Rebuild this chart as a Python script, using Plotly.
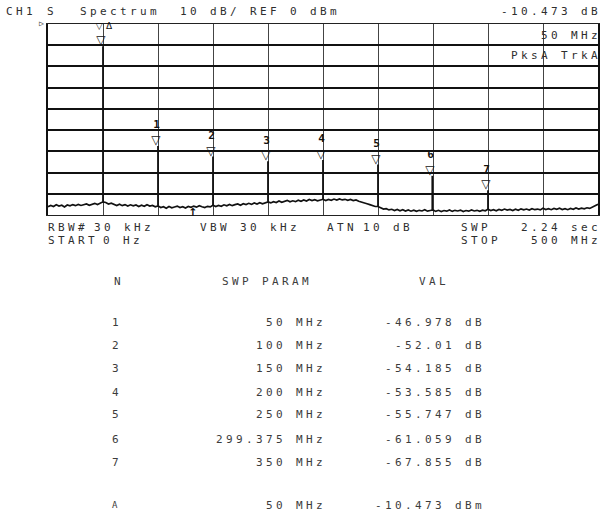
import plotly.graph_objects as go

# ---------------- data ----------------
noise_freq = [i * 2.5 for i in range(201)]  # MHz, 0..500
noise_dbm = [
    -86.1, -85.5, -86.0, -85.2, -85.8, -85.4, -86.2, -85.3, -85.7, -85.1,
    -85.6, -85.0, -85.5, -85.2, -84.8, -85.4, -84.9, -84.5, -85.1, -84.6,
    -83.8, -84.1, -84.8, -84.4, -85.1, -85.5, -84.9, -85.6, -85.1, -85.8,
    -85.2, -85.7, -85.3, -86.0, -85.4, -85.9, -85.2, -85.8, -85.5, -86.1,
    -85.7, -86.5, -86.1, -86.8, -86.0, -86.6, -86.2, -85.8, -86.5, -86.1,
    -86.7, -86.0, -86.4, -85.8, -86.3, -85.6, -86.1, -86.5, -85.9, -86.2,
    -85.4, -86.0, -85.5, -85.9, -85.2, -85.7, -85.0, -85.6, -85.1, -84.8,
    -85.4, -84.7, -85.1, -84.5, -85.0, -84.3, -84.8, -84.2, -84.7, -84.4,
    -83.8, -84.3, -83.7, -84.1, -83.4, -84.0, -83.6, -83.1, -83.8, -83.3,
    -83.7, -83.0, -83.5, -82.9, -83.4, -82.7, -83.2, -82.8, -83.3, -83.0,
    -82.6, -83.2, -82.7, -83.1, -82.5, -83.0, -82.4, -82.9, -82.6, -83.1,
    -82.7, -83.2, -82.9, -83.5, -83.8, -84.2, -84.7, -85.1, -85.6, -86.0,
    -86.0, -86.8, -87.2, -87.0, -87.6, -87.3, -87.9, -87.4, -88.0, -87.5,
    -88.1, -87.6, -88.2, -87.7, -88.3, -87.8, -88.1, -87.5, -88.2, -87.9,
    -87.6, -88.3, -87.8, -88.4, -87.9, -88.2, -87.6, -88.3, -87.8, -88.1,
    -87.7, -88.4, -87.9, -88.2, -87.6, -88.1, -87.8, -88.3, -87.7, -88.0,
    -87.3, -87.9, -87.5, -88.0, -87.4, -87.8, -87.2, -87.7, -87.4, -87.9,
    -87.3, -87.8, -87.1, -87.6, -87.2, -87.7, -87.0, -87.5, -87.2, -87.6,
    -86.8, -87.4, -87.0, -87.5, -86.9, -87.3, -86.8, -87.4, -87.0, -87.5,
    -86.9, -87.3, -86.7, -87.2, -86.8, -87.1, -86.6, -86.9, -86.2, -85.8,
    -84.9,
]

ref_freq = 50.0          # MHz  (reference marker)
ref_val = -10.473        # dBm
marker_n = [1, 2, 3, 4, 5, 6, 7]
marker_dfreq = [50, 100, 150, 200, 250, 299.375, 350]       # MHz (delta)
marker_dval = [-46.978, -52.01, -54.185, -53.585, -55.747, -61.059, -67.855]  # dB

x_ticks = list(range(0, 501, 50))
y_ticks = list(range(-90, 1, 10))

header_left = "CH1"
header_mode = "S"
header_title = "Spectrum"
header_scale = "10 dB/ REF 0 dBm"
header_right = "-10.473 dB"
info_freq = "50 MHz"
info_mode = "PksA TrkA"
row1 = [("RBW#", 48), ("30 kHz", 94), ("VBW 30 kHz", 201), ("ATN", 328), ("10 dB", 364), ("SWP", 462)]
row1_right = "2.24 sec"
row2 = [("START", 48), ("0 Hz", 103), ("STOP", 462)]
row2_right = "500 MHz"
table_head = ["N", "SWP PARAM", "VAL"]
ref_label = "A"

# ---------------- geometry helpers ----------------
L, R, T, B = 48, 600, 24, 215
W, H = 600, 512
PITCH = 10.0     # plotter character pitch (px)
GW = 6.5         # visible glyph width (px)
LS = PITCH - 0.602 * 11   # css letter spacing for 11px DejaVu Sans Mono


def P(x, y):
    return (x - L) / (R - L), (B - y) / (B - T)


FONT = "DejaVu Sans Mono"
TXT = "#2e2e2e"
TBL = "#3c3c3c"

fig = go.Figure()

# noise trace
fig.add_trace(go.Scatter(x=noise_freq, y=noise_dbm, mode="lines",
                         line=dict(color="#111", width=1.7), hoverinfo="skip"))

# peaks (vertical lines from noise floor at that freq to peak value)
peak_freqs = [ref_freq] + [ref_freq + d for d in marker_dfreq]
peak_vals = [ref_val] + [ref_val + d for d in marker_dval]
px_, py_ = [], []
for f, v in zip(peak_freqs, peak_vals):
    idx = min(range(len(noise_freq)), key=lambda i: abs(noise_freq[i] - f))
    px_ += [f, f, None]
    py_ += [noise_dbm[idx], v, None]
fig.add_trace(go.Scatter(x=px_, y=py_, mode="lines",
                         line=dict(color="#111", width=1.8), hoverinfo="skip"))

ann = []


def text(s, x, y, anchor="left", size=11, color=TXT):
    span = (len(s) - 1) * PITCH + GW
    if anchor == "right":
        x = x - span
    elif anchor == "center":
        x = x - span / 2
    xp, yp = P(x - 1, y)
    ann.append(dict(text=s, x=xp, y=yp, xref="paper", yref="paper", showarrow=False,
                    xanchor="left", yanchor="middle", align="left", borderpad=0,
                    font=dict(family=FONT, size=size, color=color)))


# marker triangles and numbers
for n, f, v in zip(marker_n, peak_freqs[1:], peak_vals[1:]):
    ann.append(dict(text="▽", x=f, y=v, xref="x", yref="y", showarrow=False, yshift=6,
                    font=dict(family="DejaVu Sans", size=12, color="#111", weight="bold")))
    ann.append(dict(text=str(n), x=f, y=v, xref="x", yref="y", showarrow=False, yshift=21,
                    font=dict(family=FONT, size=11, color="#111", weight="bold")))
ann.append(dict(text="▽", x=ref_freq, y=ref_val, xref="x", yref="y", showarrow=False, yshift=6,
                font=dict(family="DejaVu Sans", size=12, color="#111", weight="bold")))
ann.append(dict(text="▽Δ", x=ref_freq, y=0, xref="x", yref="y", showarrow=False, yshift=-2,
                xanchor="left", xshift=-6, font=dict(family="DejaVu Sans", size=9, color="#111")))
# small arrow below the trace (sweep position indicator)
ann.append(dict(text="↑", x=133, y=-88.6, xref="x", yref="y", showarrow=False,
                font=dict(family="DejaVu Sans", size=11, color="#111", weight="bold")))

# header
text(header_left, 6, 12)
text(header_mode, 47, 12)
text("▷", 39, 23, size=8)
text(header_title, 80, 12)
text(header_scale, 180, 12)
text(header_right, 599, 12, anchor="right")
text(info_freq, 599, 35, anchor="right")
text(info_mode, 599, 56, anchor="right")

# bottom annotation rows
for s, x in row1:
    text(s, x, 227)
text(row1_right, 599, 227, anchor="right")
for s, x in row2:
    text(s, x, 240)
text(row2_right, 599, 240, anchor="right")

# table
text(table_head[0], 117, 281, anchor="center", color=TBL)
text(table_head[1], 223, 281, color=TBL)
text(table_head[2], 420, 281, color=TBL)
row_y = [322, 345, 368, 392, 415, 439, 462]
for n, d, v, y in zip(marker_n, marker_dfreq, marker_dval, row_y):
    text(str(n), 115, y, anchor="center", color=TBL)
    text(f"{d:g} MHz", 323, y, anchor="right", color=TBL)
    text(f"{v:g} dB", 483, y, anchor="right", color=TBL)
text(ref_label, 115, 505, anchor="center", size=9, color=TBL)
text(f"{ref_freq:g} MHz", 323, 505, anchor="right", color=TBL)
text(f"{ref_val:g} dBm", 483, 505, anchor="right", color=TBL)

fig.update_layout(
    width=W, height=H,
    margin=dict(l=L, r=W - R, t=T, b=H - B, pad=0),
    paper_bgcolor="white", plot_bgcolor="white",
    showlegend=False,
    annotations=ann,
    xaxis=dict(range=[0, 500], tickvals=x_ticks, showticklabels=False, ticks="",
               showgrid=True, gridcolor="#444", gridwidth=1, zeroline=False,
               showline=True, mirror=True, linecolor="#222", linewidth=1),
    yaxis=dict(range=[-90, 0], tickvals=y_ticks, showticklabels=False, ticks="",
               showgrid=True, gridcolor="#111", gridwidth=1.6, zeroline=False,
               showline=True, mirror=True, linecolor="#111", linewidth=1.6),
)

post = (
    "document.body.style.margin='0';document.body.style.overflow='hidden';"
    "var s=document.createElement('style');"
    "s.textContent='text.annotation-text{letter-spacing:%.2fpx}';"
    "document.head.appendChild(s);" % LS
)
fig.write_html("out.html", config={"displayModeBar": False}, post_script=post)
